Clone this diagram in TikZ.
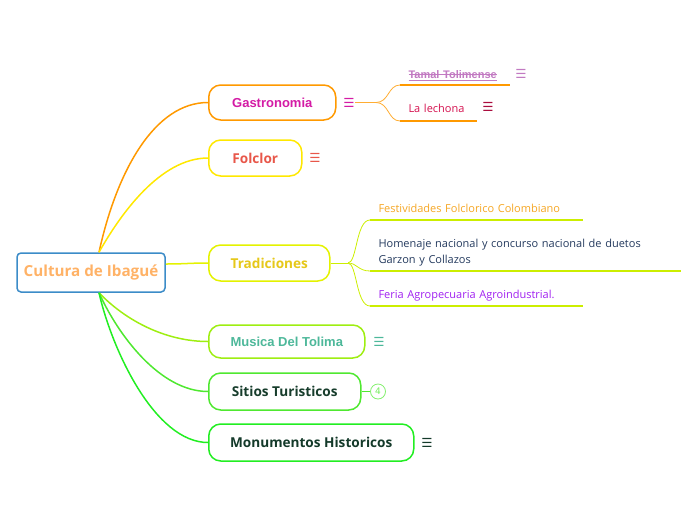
\documentclass[tikz,border=0pt]{standalone}
\usepackage{fontspec}
\setmainfont{Open Sans}
\newfontfamily\arialfont{Liberation Sans}
\newfontfamily\symbolfont{DejaVu Sans}
\usetikzlibrary{calc,positioning}
\newlength\strikelen
\newcommand\strikethru[1]{\settowidth{\strikelen}{#1}\rlap{\rule[0.3em]{\strikelen}{0.6pt}}#1}
\definecolor{RootBlue}{HTML}{3C8CC8}
\definecolor{RootText}{HTML}{FFB266}
\definecolor{GasOrange}{HTML}{FF9900}
\definecolor{GasText}{HTML}{D41BA5}
\definecolor{FolYellow}{HTML}{FFE800}
\definecolor{FolText}{HTML}{E8574A}
\definecolor{TradLime}{HTML}{E4F200}
\definecolor{TradText}{HTML}{E6C81A}
\definecolor{TradSub}{HTML}{CCEE00}
\definecolor{MusLime}{HTML}{9EEE11}
\definecolor{MusText}{HTML}{4DB89A}
\definecolor{SitGreen}{HTML}{4FE830}
\definecolor{SitText}{HTML}{173D2C}
\definecolor{MonGreen}{HTML}{22EE22}
\definecolor{MonText}{HTML}{143A2A}
\definecolor{TamalPurple}{HTML}{C27AC2}
\definecolor{LechonaRed}{HTML}{D4104E}
\definecolor{FestOrange}{HTML}{F5A623}
\definecolor{HomNavy}{HTML}{23395D}
\definecolor{FeriaPurple}{HTML}{A020F0}
\tikzset{
  every picture/.style={line width=1pt},
  rootbox/.style={
    draw=RootBlue,
    line width=1.5pt,
    rounded corners=4pt,
    fill=white,
    minimum width=148pt,
    minimum height=39pt,
    text=RootText,
    font=\fontsize{15.2}{17}\selectfont\bfseries
  },
  topicbox/.style={
    draw,
    line width=1.5pt,
    rounded corners=12pt,
    fill=white,
    anchor=west,
    minimum height=36pt,
    inner sep=2pt,
    font=\fontsize{13.6}{15}\selectfont\bfseries
  },
  arialtopic/.style={topicbox, font=\fontsize{13}{15}\selectfont\arialfont\bfseries},
  menuicon/.style={font=\fontsize{12.5}{12.5}\selectfont\symbolfont, inner sep=0pt},
  subtopic/.style={
    anchor=south west,
    align=left,
    inner xsep=8pt,
    inner ysep=4pt,
    font=\fontsize{11}{16}\selectfont
  },
  branchline/.style={line width=1.5pt},
  subline/.style={line width=0.8pt},
  uline/.style={line width=2.4pt},
  countbadge/.style={circle, draw=SitGreen!70, text=SitGreen!80, line width=0.8pt,
    minimum size=15pt, inner sep=0pt, font=\fontsize{9}{9}\selectfont\symbolfont}
}
\begin{document}
\begin{tikzpicture}[x=1pt,y=-1pt]
  \useasboundingbox (0,0) rectangle (696,520);

  \node[rootbox] (root) at (91,272.5) {Cultura de Ibagué};

  \node[arialtopic,draw=GasOrange,text=GasText,minimum width=127pt,minimum height=35pt] (gas) at (208,102.5) {Gastronomia};
  \node[menuicon,text=GasText] (gasmenu) at (349,102.5) {☰};
  \node[topicbox,draw=FolYellow,text=FolText,minimum width=93pt] (fol) at (208,158) {Folclor};
  \node[menuicon,text=FolText] (folmenu) at (315,158) {☰};
  \node[topicbox,draw=TradLime,text=TradText,minimum width=121pt] (trad) at (208,263) {Tradiciones};
  \node[arialtopic,draw=MusLime,text=MusText,minimum width=156pt,minimum height=33pt] (mus) at (208,341.5) {Musica Del Tolima};
  \node[menuicon,text=MusText] (musmenu) at (379,342) {☰};
  \node[topicbox,draw=SitGreen,text=SitText,minimum width=152pt,minimum height=37pt] (sit) at (208,391.5) {Sitios Turisticos};
  \node[countbadge] (sitcount) at (378,391.5) {4};
  \node[topicbox,draw=MonGreen,text=MonText,minimum width=205pt,minimum height=37pt] (mon) at (208,442.5) {Monumentos Historicos};
  \node[menuicon,text=MonText] (monmenu) at (427,442.5) {☰};

  % root to topics
  \draw[branchline,GasOrange] ([xshift=8pt]root.north) .. controls (117,170) and (155,102.5) .. (gas.west);
  \draw[branchline,FolYellow] ([xshift=8pt]root.north) .. controls (120,215) and (160,158) .. (fol.west);
  \draw[branchline,TradLime] ([yshift=8.5pt]root.east) .. controls (185,264) and (190,263) .. (trad.west);
  \draw[branchline,MusLime] ([xshift=8pt]root.south) .. controls (125,320) and (165,341.5) .. (mus.west);
  \draw[branchline,SitGreen] ([xshift=8pt]root.south) .. controls (118,335) and (160,391.5) .. (sit.west);
  \draw[branchline,MonGreen] ([xshift=8pt]root.south) .. controls (112,350) and (155,442.5) .. (mon.west);
  \draw[subline,SitGreen] (sit.east) -- (sitcount.west);

  % gastronomia
  \node[subtopic,text width=93pt,text=TamalPurple,font=\fontsize{11}{13}\selectfont\arialfont\bfseries] (tamal) at (400,85) {\underline{\strikethru{Tamal Tolimense}}};
  \node[menuicon,text=TamalPurple] (tamalmenu) at (521,74) {☰};
  \node[subtopic,text width=60pt,text=LechonaRed,inner ysep=8pt] (lechona) at (400,121) {La lechona};
  \node[menuicon,text=LechonaRed!80!black] (lechonamenu) at (488,107) {☰};
  \coordinate (gasfork) at (376,102.5);
  \draw[subline,GasOrange!80] (gasmenu.east) -- (gasfork);
  \draw[subline,GasOrange!80] (gasfork) .. controls (389,102.5) and (388,85) .. (tamal.south west);
  \draw[subline,GasOrange!80] (gasfork) .. controls (389,102.5) and (388,121) .. (lechona.south west);
  \draw[uline,GasOrange] (tamal.south west) -- (tamal.south east);
  \draw[uline,GasOrange] (lechona.south west) -- (lechona.south east);

  % tradiciones
  \node[subtopic,text width=196pt,text=FestOrange,inner ysep=7pt] (fest) at (370,220) {Festividades Folclorico Colombiano};
  \node[subtopic,text width=294pt,text=HomNavy] (hom) at (370,271) {Homenaje nacional y concurso nacional de duetos\\Garzon y Collazos};
  \node[subtopic,text width=196pt,text=FeriaPurple] (feria) at (370,306) {Feria Agropecuaria Agroindustrial.};
  \coordinate (tradfork) at (348,263);
  \draw[subline,TradSub] (trad.east) -- (tradfork);
  \draw[subline,TradSub] (tradfork) .. controls (357,263) and (356,220) .. (fest.south west);
  \draw[subline,TradSub] (tradfork) .. controls (357,263) and (358,271) .. (hom.south west);
  \draw[subline,TradSub] (tradfork) .. controls (357,263) and (356,306) .. (feria.south west);
  \draw[uline,TradSub] (fest.south west) -- (fest.south east);
  \draw[uline,TradSub] (hom.south west) -- (hom.south east);
  \draw[uline,TradSub] (feria.south west) -- (feria.south east);
\end{tikzpicture}
\end{document}
